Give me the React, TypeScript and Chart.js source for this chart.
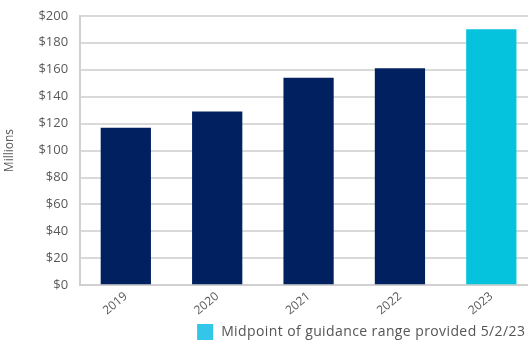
import React, { useEffect, useRef } from "react";
import { Chart, registerables } from "chart.js";

Chart.register(...registerables);

const categories = ["2019", "2020", "2021", "2022", "2023"];
const values = [117, 129, 154, 161, 190];
const barColors = ["#002060", "#002060", "#002060", "#002060", "#05C3DD"];
const legendLabel = "Midpoint of guidance range provided 5/2/23";
const legendColor = "#33C6E8";
const yTitle = "Millions";
const FONT = "'Open Sans'";

const legendPlugin = {
  id: "customLegend",
  afterDraw(chart: any) {
    const ctx = chart.ctx;
    const x = chart.chartArea.left + 117;
    const y = chart.height - 17;
    ctx.save();
    ctx.fillStyle = legendColor;
    ctx.fillRect(x, y, 16, 16);
    ctx.fillStyle = "#555555";
    ctx.font = "14px " + FONT;
    try {
      (ctx as any).letterSpacing = "0.4px";
    } catch (e) {}
    ctx.textBaseline = "middle";
    ctx.textAlign = "left";
    ctx.fillText(legendLabel, x + 24, y + 8);
    ctx.restore();
  },
};

export default function App() {
  const ref = useRef<HTMLCanvasElement>(null);
  useEffect(() => {
    if (!ref.current) return;
    const chart = new Chart(ref.current, {
      type: "bar",
      data: {
        labels: categories,
        datasets: [
          {
            data: values,
            backgroundColor: barColors,
            categoryPercentage: 1,
            barPercentage: 0.55,
          },
        ],
      },
      plugins: [legendPlugin],
      options: {
        animation: false,
        responsive: false,
        maintainAspectRatio: false,
        layout: { padding: { top: 0, right: 0, left: 2, bottom: 19 } },
        plugins: {
          tooltip: { enabled: false },
          legend: { display: false },
        },
        scales: {
          x: {
            grid: { display: false, drawTicks: false },
            border: { display: true, color: "#d0d0d0", width: 2 },
            ticks: {
              color: "#595959",
              font: { family: FONT, size: 12 },
              minRotation: 40,
              maxRotation: 40,
              padding: 4,
            },
          },
          y: {
            min: 0,
            max: 200,
            title: {
              display: true,
              text: yTitle,
              color: "#595959",
              font: { family: FONT, size: 12 },
              padding: { top: 0, bottom: 10 },
            },
            grid: { color: "#d9d9d9", lineWidth: 2, drawTicks: false },
            border: { display: true, color: "#d0d0d0", width: 2 },
            ticks: {
              stepSize: 20,
              color: "#595959",
              padding: 12,
              font: { family: FONT, size: 13 },
              callback: (v: any) => "$" + v,
            },
          },
        },
      },
    });
    return () => chart.destroy();
  }, []);
  return (
    <div style={{ position: "fixed", left: 0, top: -4, width: 537, height: 345 }}>
      <canvas ref={ref} width={537} height={345} style={{ display: "block" }} />
    </div>
  );
}
